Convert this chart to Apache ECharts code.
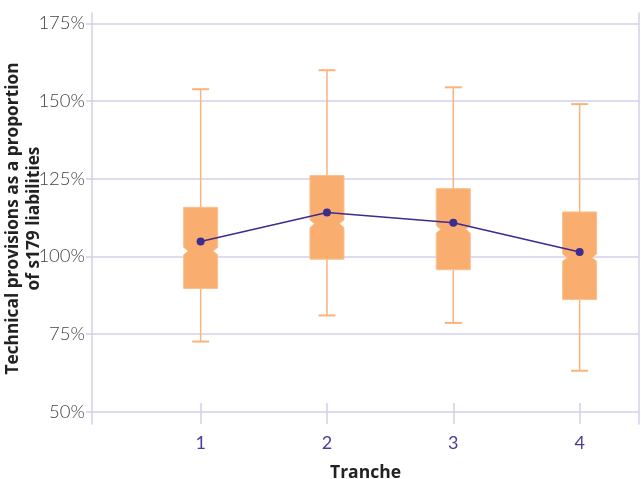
<!DOCTYPE html>
<html>
<head>
<meta charset="utf-8">
<script src="https://cdn.jsdelivr.net/npm/echarts@6/dist/echarts.min.js"></script>
<style>html,body{margin:0;padding:0;background:#fff}#c{width:641px;height:479px}</style>
</head>
<body>
<div id="c"></div>
<script>
var tranches = [1, 2, 3, 4];
var whiskerLow  = [72.6, 81.0, 78.6, 63.2];
var q1          = [89.7, 99.1, 95.7, 86.1];
var notchLow    = [100.5, 109.3, 107.5, 98.4];
var median      = [101.7, 110.5, 108.7, 99.6];
var notchHigh   = [102.9, 111.7, 109.9, 100.8];
var q3          = [115.8, 126.0, 121.8, 114.3];
var whiskerHigh = [153.8, 159.9, 154.4, 149.0];
var means       = [104.8, 114.1, 110.8, 101.4];
var yTicks      = [50, 75, 100, 125, 150, 175];

var boxData = tranches.map(function (t, i) {
  return [t, whiskerLow[i], q1[i], notchLow[i], median[i], notchHigh[i], q3[i], whiskerHigh[i]];
});
var meanData = tranches.map(function (t, i) { return [t, means[i]]; });

var grid = '#d3d0e8';
var chart = echarts.init(document.getElementById('c'));
chart.setOption({
  animation: false,
  grid: { left: 92, right: 2, top: 13, bottom: 55, outerBoundsMode: 'none', containLabel: false },
  xAxis: [{
    type: 'value', min: 0.14, max: 4.47,
    name: 'Tranche', nameLocation: 'middle', nameGap: 40, nameMoveOverlap: false,
    nameTextStyle: { fontFamily: 'Open Sans', fontWeight: 'bold', fontSize: 17.5, color: '#222' },
    axisLine: { show: false },
    axisTick: { show: true, inside: true, length: 21, customValues: tranches, lineStyle: { color: grid, width: 1.5 } },
    axisLabel: { customValues: tranches, margin: 10, fontFamily: 'Lato', fontSize: 18, color: '#4b3c9a' },
    splitLine: { show: false }
  }],
  yAxis: [{
    type: 'value', min: 46.07, max: 178.31,
    name: 'Technical provisions as a proportion\nof s179 liabilities',
    nameLocation: 'middle', nameGap: 47, nameMoveOverlap: false,
    nameTextStyle: { fontFamily: 'Open Sans', fontWeight: 'bold', fontSize: 17.3, color: '#222', lineHeight: 21 },
    axisLine: { show: true, lineStyle: { color: grid, width: 1.5 } },
    axisTick: { show: true, length: 6, customValues: yTicks, lineStyle: { color: grid, width: 1.5 } },
    axisLabel: { customValues: yTicks, margin: 7, fontFamily: 'Lato', fontWeight: 300, fontSize: 18.5, color: '#444',
      formatter: function (v) { return v + '%'; } },
    splitLine: { show: true, lineStyle: { color: grid, width: 1.5 } }
  }, {
    type: 'value', min: 46.07, max: 178.31, position: 'right',
    axisLine: { show: true, lineStyle: { color: grid, width: 1.5 } },
    axisTick: { show: false }, axisLabel: { show: false }, splitLine: { show: false }
  }],
  series: [{
    type: 'custom',
    data: boxData,
    z: 3,
    renderItem: function (params, api) {
      var x = api.value(0);
      var pMin = api.coord([x, api.value(1)]);
      var pQ1 = api.coord([x, api.value(2)]);
      var pNL = api.coord([x, api.value(3)]);
      var pMed = api.coord([x, api.value(4)]);
      var pNH = api.coord([x, api.value(5)]);
      var pQ3 = api.coord([x, api.value(6)]);
      var pMax = api.coord([x, api.value(7)]);
      var cx = pMed[0], w = 17, d = 4.5, cap = 8.5;
      var wStyle = { stroke: '#f9b47c', lineWidth: 1.5 };
      var cStyle = { stroke: '#f9b47c', lineWidth: 2 };
      return {
        type: 'group',
        children: [
          { type: 'line', shape: { x1: cx, y1: pMin[1], x2: cx, y2: pMax[1] }, style: wStyle },
          { type: 'line', shape: { x1: cx - cap, y1: pMin[1], x2: cx + cap, y2: pMin[1] }, style: cStyle },
          { type: 'line', shape: { x1: cx - cap, y1: pMax[1], x2: cx + cap, y2: pMax[1] }, style: cStyle },
          { type: 'polygon', shape: { points: [
              [cx - w, pQ3[1]], [cx + w, pQ3[1]], [cx + w, pNH[1]], [cx + w - d, pMed[1]],
              [cx + w, pNL[1]], [cx + w, pQ1[1]], [cx - w, pQ1[1]], [cx - w, pNL[1]],
              [cx - w + d, pMed[1]], [cx - w, pNH[1]]
            ] }, style: { fill: '#f9ae6f', stroke: '#fbc08f', lineWidth: 1 } }
        ]
      };
    }
  }, {
    type: 'line',
    data: meanData,
    z: 5,
    symbol: 'circle', symbolSize: 8,
    lineStyle: { color: '#3d2b8e', width: 1.5 },
    itemStyle: { color: '#3d2b8e' }
  }]
});
</script>
</body>
</html>
